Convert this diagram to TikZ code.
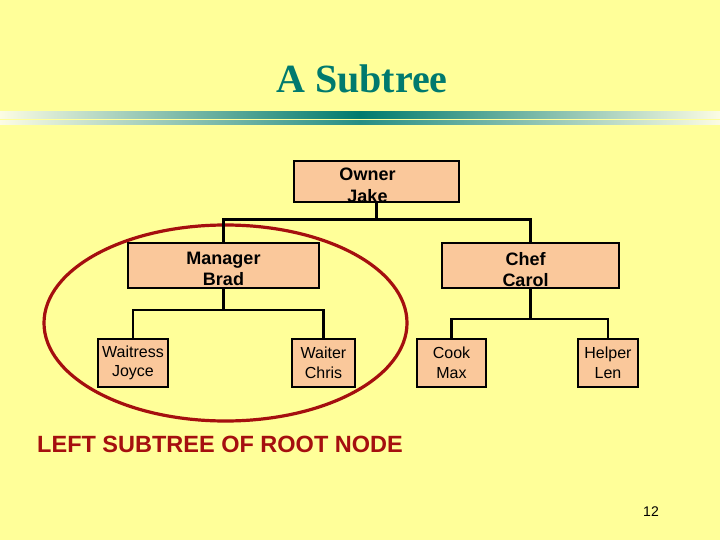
\documentclass[tikz,border=0pt]{standalone}
\usepackage{fontspec}
\setmainfont{Liberation Sans}
\newfontfamily\titlefont{Liberation Serif}
\usetikzlibrary{calc}
\definecolor{slidebg}{RGB}{255,255,153}
\definecolor{titleteal}{RGB}{0,122,110}
\definecolor{barfade}{RGB}{252,252,228}
\definecolor{boxpeach}{RGB}{250,200,155}
\definecolor{ringred}{RGB}{165,15,15}

\begin{document}
\begin{tikzpicture}[x=1pt,y=-1pt,
  staff/.style={draw,line width=2.4pt,fill=boxpeach,inner sep=0pt},
  bosstext/.style={anchor=north,inner sep=0pt,align=center,font=\bfseries\fontsize{18}{21.5}\selectfont},
  crewtext/.style={align=center,font=\fontsize{16}{19.5}\selectfont},
  wire/.style={line width=2.4pt}]
\fill[slidebg] (0,0) rectangle (720,540);
\useasboundingbox (0,0) rectangle (720,540);
\node[font=\titlefont\bfseries\fontsize{40}{48}\selectfont,text=titleteal,anchor=base] (title) at (362,93) {A Subtree};
\shade[left color=barfade,right color=titleteal] (0,112) rectangle (360,118.5);
\shade[left color=titleteal,right color=barfade] (360,112) rectangle (720,118.5);
\shade[left color=barfade,right color=titleteal!85!white] (0,120.5) rectangle (360,125);
\shade[left color=titleteal!85!white,right color=barfade] (360,120.5) rectangle (720,125);
\draw[ringred,line width=3.2pt] (225.5,323) ellipse [x radius=181.5,y radius=98];
\node[staff,minimum width=165,minimum height=41] (owner) at (376.5,181.5) {};
\node[staff,minimum width=191,minimum height=45] (manager) at (223.5,265.5) {};
\node[staff,minimum width=177,minimum height=45] (chef) at (530.5,265.5) {};
\node[staff,crewtext,minimum width=70,minimum height=48] (waitress) at (133,363) {Waitress\\Joyce};
\node[staff,crewtext,minimum width=63,minimum height=48] (waiter) at (323.5,363) {Waiter\\Chris};
\node[staff,crewtext,minimum width=69,minimum height=48] (cook) at (451.5,363) {Cook\\Max};
\node[staff,crewtext,minimum width=60,minimum height=48] (helper) at (608,363) {Helper\\Len};
\node[bosstext] (ownertext) at ($(owner.north)+(-9,8)$) {Owner\\Jake};
\node[bosstext] (managertext) at ($(manager.north)+(0,10)$) {Manager\\Brad};
\node[bosstext] (cheftext) at ($(chef.north)+(-5,10)$) {Chef\\Carol};
\coordinate (ownerbus) at ($(owner.south)+(0,16.5)$);
\coordinate (managerbus) at ($(manager.south)+(0,21)$);
\coordinate (chefbus) at ($(chef.south)+(0,29.5)$);
\draw[wire] (owner.south) -- (ownerbus);
\draw[wire] (manager.north) |- (ownerbus) -| (chef.north);
\draw[wire] (manager.south) -- (managerbus);
\draw[wire] (waitress.north) |- (managerbus) -| (waiter.north);
\draw[wire] (chef.south) -- (chefbus);
\draw[wire] (cook.north) |- (chefbus) -| (helper.north);
\node[font=\bfseries\fontsize{23.5}{28}\selectfont,text=ringred,anchor=base] (subtreelabel) at (220,452) {LEFT SUBTREE OF ROOT NODE};
\node[font=\fontsize{14}{17}\selectfont,anchor=base] (pagenum) at (651,516) {12};
\end{tikzpicture}
\end{document}
